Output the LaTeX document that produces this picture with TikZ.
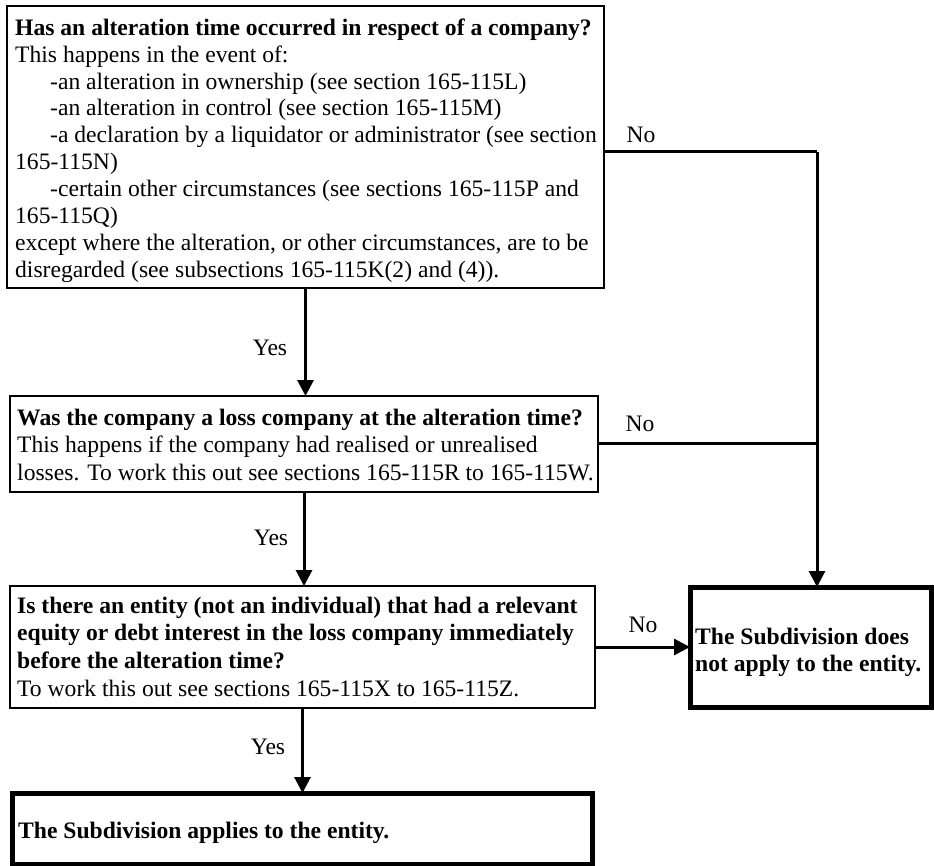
\documentclass[tikz,border=0pt]{standalone}
\usepackage{fontspec}
\setmainfont{Liberation Serif}
\usetikzlibrary{arrows.meta}
\begin{document}
\begin{tikzpicture}[x=1pt,y=-1pt,
  thinbox/.style={draw, line width=2.5pt, inner sep=0pt, outer sep=0pt},
  thickbox/.style={draw, line width=5pt, inner sep=0pt, outer sep=0pt},
  txt/.style={anchor=north west, align=left, inner sep=0pt, font=\fontsize{23.6}{27.6}\selectfont},
  lbl/.style={inner sep=0pt, font=\fontsize{23.6}{27.6}\selectfont},
  conn/.style={line width=3pt},
  arr/.style={conn, -{Triangle[length=16pt,width=16pt]}}
]
\useasboundingbox (0,0) rectangle (934,866);

% boxes
\node[thinbox, minimum width=597pt, minimum height=282pt, anchor=north west] (b1) at (7,6) {};
\node[thinbox, minimum width=588pt, minimum height=96pt, anchor=north west] (b2) at (10,396) {};
\node[thinbox, minimum width=585pt, minimum height=122pt, anchor=north west] (b3) at (10,586) {};
\node[thickbox, minimum width=580pt, minimum height=71pt, anchor=north west] (b4) at (12,793) {};
\node[thickbox, minimum width=241pt, minimum height=120pt, anchor=north west] (b5) at (690,587) {};

% texts
\node[txt, font=\fontsize{23.6}{26.9}\selectfont] (t1) at (15,16.2) {\strut\textbf{Has an alteration time occurred in respect of a company?}\\
This happens in the event of:\\
\hspace*{35pt}-an alteration in ownership (see section 165-115L)\\
\hspace*{35pt}-an alteration in control (see section 165-115M)\\
\hspace*{35pt}-a declaration by a liquidator or administrator (see section\\
165-115N)\\
\hspace*{35pt}-certain other circumstances (see sections 165-115P and\\
165-115Q)\\
except where the alteration, or other circumstances, are to be\\
disregarded (see subsections 165-115K(2) and (4)).};

\node[txt] (t2) at (17,405.7) {\strut\textbf{Was the company a loss company at the alteration time?}\\
This happens if the company had realised or unrealised\\
losses. To work this out see sections 165-115R to 165-115W.};

\node[txt] (t3) at (17,593.7) {\strut\textbf{Is there an entity (not an individual) that had a relevant}\\
\textbf{equity or debt interest in the loss company immediately}\\
\textbf{before the alteration time?}\\
To work this out see sections 165-115X to 165-115Z.};

\node[txt] (t4) at (18,818.7) {\strut\textbf{The Subdivision applies to the entity.}};

\node[txt] (t5) at (695,624.7) {\strut\textbf{The Subdivision does}\\
\textbf{not apply to the entity.}};

% junctions
\coordinate (j1) at (817,152);
\coordinate (j2) at (817,443);

% connectors
\draw[arr] (b1.south) -- (b1.south |- b2.north);
\draw[arr] (b2.south) -- (b2.south |- b3.north);
\draw[arr] (b3.south) -- (b3.south |- b4.north);
\draw[conn] (b1.east |- j1) -- (j1);
\draw[arr] (j1) -- (j1 |- b5.north);
\draw[conn] (b2.east |- j2) -- (j2);
\draw[arr] (b3.east) -- (b5.west);

% labels
\node[lbl] (y1) at (270,348) {Yes};
\node[lbl] (y2) at (271,538) {Yes};
\node[lbl] (y3) at (268,747) {Yes};
\node[lbl] (n1) at (641,135) {No};
\node[lbl] (n2) at (640,424) {No};
\node[lbl] (n3) at (643,625) {No};
\end{tikzpicture}
\end{document}
